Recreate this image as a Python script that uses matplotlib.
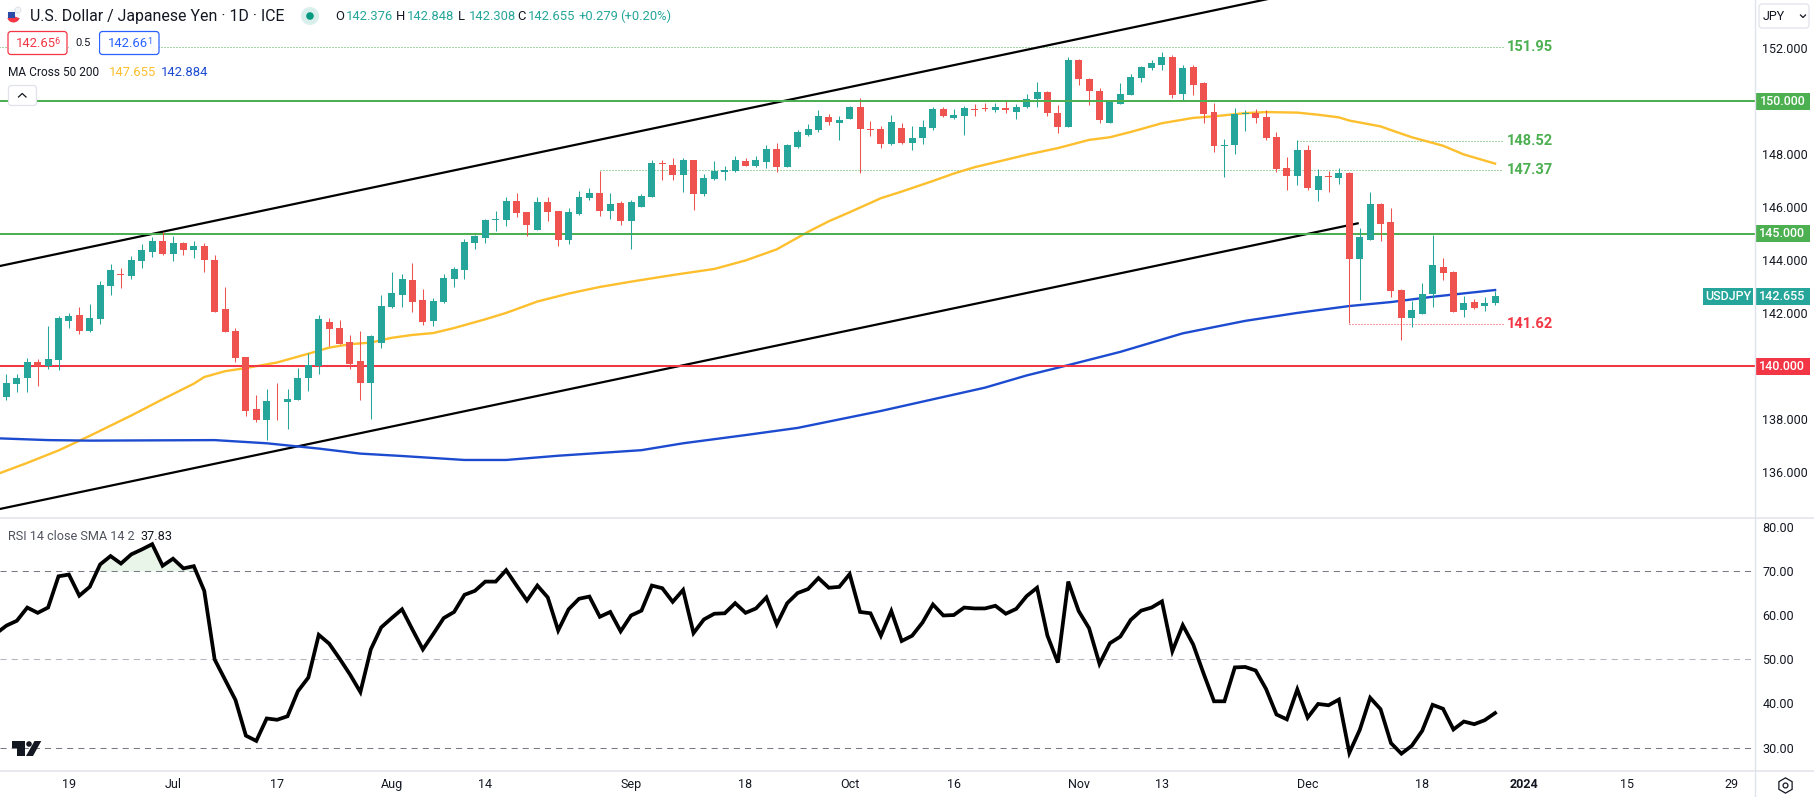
import matplotlib
matplotlib.use("Agg")
import matplotlib.pyplot as plt
from matplotlib.patches import Circle, FancyBboxPatch, Polygon, Rectangle, Wedge

W, H = 1814, 797
plt.rcParams['font.family'] = ['Roboto', 'DejaVu Sans']
plt.rcParams['lines.scale_dashes'] = False

GREEN = '#26a69a'
RED = '#ef5350'
LEVEL_GREEN = '#4caf50'
LEVEL_RED = '#f23645'
YELLOW = '#fdbf2d'
BLUE = '#1c4bd0'
TEXT = '#131722'
BORDER = '#e0e3eb'

# bar 0 is 19 Jun 2023, first visible bar is -6, last is 137 (27 Dec)
first_bar = -6
opens = [138.83, 139.32, 139.55, 140.15, 140.00, 140.23, 141.70, 141.93, 141.33, 141.78,
         143.03, 143.48, 143.41, 143.98, 144.32, 144.73, 144.24, 144.66, 144.39, 144.55,
         144.02, 142.16, 141.33, 140.34, 138.41, 137.99, 138.67, 138.64, 138.75, 139.55,
         140.00, 141.67, 141.44, 140.91, 140.19, 139.36, 140.87, 142.23, 142.69, 143.26,
         142.50, 141.70, 142.42, 143.30, 143.64, 144.66, 144.85, 145.53, 145.53,
         146.24, 145.83, 145.15, 146.20, 145.86, 144.78, 145.75, 146.35, 146.54, 145.86,
         146.16, 145.49, 146.01, 146.39, 147.66, 147.59, 147.21, 147.81, 146.50, 147.06,
         147.33, 147.36, 147.74, 147.55, 147.70, 148.19, 147.51, 148.30, 148.75, 148.94,
         149.43, 149.20, 149.35, 149.80, 148.98, 148.98, 148.41, 149.01, 148.45, 148.64,
         149.01, 149.73, 149.39, 149.46, 149.73, 149.76, 149.69, 149.74, 149.62, 149.81,
         150.08, 150.34, 149.55, 149.02, 151.58, 150.86, 150.41, 149.17, 149.89, 150.26,
         150.90, 151.28, 151.39, 151.69, 150.30, 151.32, 150.71, 149.62, 148.31, 148.35,
         149.51, 149.55, 149.40, 148.65, 147.48, 147.18, 148.16, 146.65, 147.18, 147.11,
         147.29, 144.06, 144.77, 146.13, 145.45, 142.89, 141.84, 141.99, 142.74, 143.76,
         143.57, 142.14, 142.44, 142.29, 142.376]
closes = [139.36, 139.55, 140.15, 140.00, 140.27, 141.82, 141.89, 141.33, 141.82, 143.07,
          143.64, 143.45, 144.02, 144.39, 144.73, 144.24, 144.65, 144.39, 144.55, 144.02,
          142.05, 141.29, 140.30, 138.33, 137.99, 138.71, 138.64, 138.79, 139.58, 140.04,
          141.78, 141.40, 140.86, 140.11, 139.36, 141.14, 142.27, 142.77, 143.30, 142.42,
          141.67, 142.46, 143.33, 143.67, 144.70, 144.92, 145.53, 145.57, 146.25,
          145.79, 145.34, 146.20, 145.83, 144.78, 145.83, 146.39, 146.54, 145.86, 146.13,
          145.49, 146.20, 146.43, 147.66, 147.63, 147.21, 147.81, 146.50, 147.10, 147.36,
          147.40, 147.81, 147.55, 147.78, 148.19, 147.51, 148.34, 148.83, 148.98, 149.46,
          149.24, 149.31, 149.80, 148.98, 148.94, 148.41, 149.24, 148.45, 148.64, 149.05,
          149.73, 149.46, 149.50, 149.76, 149.69, 149.73, 149.80, 149.66, 149.81, 150.11,
          150.34, 149.55, 149.02, 151.58, 150.83, 150.38, 149.29, 150.04, 150.30, 150.94,
          151.32, 151.47, 151.69, 150.26, 151.28, 150.64, 149.51, 148.31, 148.35, 149.51,
          149.55, 149.36, 148.61, 147.44, 147.18, 148.16, 146.73, 147.18, 147.14, 147.29,
          144.06, 144.89, 146.13, 145.38, 142.86, 141.84, 142.14, 142.74, 143.83, 143.53,
          142.07, 142.41, 142.22, 142.41, 142.655]
highs = [139.70, 139.73, 140.30, 140.27, 141.52, 141.89, 142.01, 142.23, 142.35, 143.22,
         143.86, 143.71, 144.17, 144.62, 144.89, 145.08, 144.92, 144.70, 144.73, 144.66,
         144.20, 142.99, 141.44, 140.34, 138.94, 139.13, 139.39, 139.13, 139.96, 140.49,
         141.93, 141.82, 141.74, 141.17, 141.33, 141.17, 142.69, 143.56, 143.48, 143.90,
         142.92, 142.58, 143.48, 143.75, 144.81, 144.96, 145.57, 145.87, 146.40,
         146.54, 145.83, 146.39, 146.39, 145.86, 145.98, 146.61, 146.73, 147.36, 146.54,
         146.24, 146.28, 146.50, 147.78, 147.81, 147.85, 147.85, 147.81, 147.25, 147.74,
         147.55, 147.93, 147.85, 147.93, 148.34, 148.45, 148.41, 148.94, 149.16, 149.69,
         149.54, 149.46, 149.84, 150.14, 149.28, 149.09, 149.50, 149.20, 149.09, 149.31,
         149.80, 149.80, 149.73, 149.84, 149.91, 149.95, 149.95, 150.04, 149.92, 150.30,
         150.75, 150.38, 149.85, 151.69, 151.62, 150.90, 150.49, 150.04, 150.68, 151.05,
         151.35, 151.58, 151.88, 151.77, 151.39, 151.39, 150.75, 149.96, 148.57, 149.74,
         149.66, 149.70, 149.66, 148.83, 147.89, 148.53, 148.35, 147.44, 147.37, 147.48,
         147.33, 145.23, 146.58, 146.17, 145.98, 142.93, 142.48, 143.16, 144.96, 144.10,
         143.61, 142.67, 142.56, 142.63, 142.848]
lows = [138.75, 139.05, 139.02, 139.28, 139.92, 139.85, 141.44, 141.21, 141.29, 141.59,
        142.69, 142.95, 143.30, 143.71, 144.13, 144.20, 143.98, 144.20, 144.09, 143.56,
        142.05, 141.29, 140.15, 138.14, 137.92, 137.23, 137.99, 137.65, 138.75, 139.09,
        139.73, 140.76, 140.83, 139.92, 138.75, 138.03, 140.68, 142.20, 142.23, 142.05,
        141.55, 141.52, 142.39, 142.99, 143.30, 144.43, 144.66, 145.11, 145.30,
        145.64, 144.93, 145.15, 145.49, 144.55, 144.63, 145.71, 146.28, 145.68, 145.56,
        145.34, 144.44, 146.01, 146.39, 147.03, 147.03, 146.58, 145.90, 146.43, 147.03,
        147.03, 147.33, 147.55, 147.51, 147.48, 147.33, 147.51, 148.23, 148.68, 148.83,
        149.13, 148.53, 149.35, 147.29, 148.71, 148.26, 148.34, 148.41, 148.15, 148.41,
        148.94, 149.43, 149.35, 148.75, 149.46, 149.65, 149.61, 149.55, 149.32, 149.77,
        149.81, 149.44, 148.80, 149.02, 150.64, 149.85, 149.17, 149.17, 149.89, 150.26,
        150.75, 151.20, 151.20, 150.15, 150.04, 150.26, 149.17, 148.08, 147.14, 148.01,
        148.87, 149.17, 148.53, 147.33, 146.65, 146.84, 146.65, 146.24, 146.58, 146.88,
        141.63, 142.52, 144.77, 144.74, 142.63, 140.98, 141.47, 141.99, 142.26, 143.27,
        142.07, 141.88, 142.18, 142.11, 142.308]

# RSI starts one bar earlier because the line runs off the left edge
rsi_first_bar = -7
rsi = [55.9, 57.7, 58.8, 61.8, 60.6, 61.8, 68.9, 69.3, 64.5, 66.5, 71.6, 73.5, 71.8, 73.9, 75.0,
       76.2, 71.3, 72.9, 70.7, 71.2, 65.6, 50.0, 45.4, 40.8, 32.7, 31.5, 36.6, 36.3, 37.1, 42.8,
       45.9, 55.6, 53.6, 50.2, 46.6, 42.6, 52.3, 57.3, 59.4, 61.4, 56.8, 52.3, 55.8, 59.4, 60.8,
       64.7, 65.6, 67.7, 67.7, 70.3, 66.8, 63.4, 66.8, 64.1, 56.6, 61.4, 63.8, 64.3, 59.7, 60.8,
       56.4, 60.0, 61.1, 66.8, 66.2, 63.1, 65.8, 56.0, 59.1, 60.4, 60.5, 62.8, 60.6, 61.6, 64.1,
       58.0, 62.8, 65.1, 66.0, 68.5, 66.3, 66.5, 69.4, 60.8, 60.5, 55.4, 61.0, 54.2, 55.4, 58.4,
       62.5, 60.0, 60.1, 61.8, 61.6, 61.6, 62.2, 60.4, 61.5, 64.4, 66.3, 55.4, 49.3, 67.7, 61.0,
       57.1, 49.0, 53.7, 55.2, 59.0, 61.1, 61.8, 63.2, 51.9, 57.8, 53.4, 46.8, 40.5, 40.5, 48.2,
       48.3, 47.5, 43.3, 37.5, 36.4, 43.2, 36.8, 39.9, 39.6, 40.9, 28.8, 34.0, 41.3, 38.7, 31.0,
       28.6, 30.4, 33.8, 39.7, 38.8, 34.1, 35.9, 35.3, 36.2, 37.83]

ma50_bars = [-7, -4, -1, 2, 6, 9, 12, 13, 15, 17, 20, 23, 25, 27, 29, 31, 33, 35, 37, 40, 42, 45,
             48, 51, 54, 58, 62, 65, 68, 71, 73, 75, 78, 80, 83, 85, 87, 90, 92, 95, 98, 100, 102,
             105, 108, 110, 113, 115, 118, 120, 122, 123, 126, 127, 129, 132, 134, 137]
ma50 = [135.92, 136.36, 136.83, 137.38, 138.15, 138.76, 139.35, 139.60, 139.82, 139.94, 140.15,
        140.48, 140.71, 140.84, 140.90, 141.08, 141.19, 141.26, 141.45, 141.78, 142.02, 142.45,
        142.75, 143.00, 143.20, 143.45, 143.68, 144.00, 144.42, 145.08, 145.48, 145.82, 146.35,
        146.60, 147.00, 147.28, 147.52, 147.80, 147.99, 148.24, 148.55, 148.65, 148.85, 149.18,
        149.38, 149.44, 149.56, 149.60, 149.58, 149.50, 149.40, 149.28, 149.06, 148.92, 148.65,
        148.33, 148.00, 147.655]
ma200_bars = [-7, -2, 2, 14, 19, 24, 28, 32, 38, 42, 47, 55, 59, 65, 70, 78, 83, 88, 92, 96, 101,
              107, 113, 118, 123, 127, 131, 137]
ma200 = [137.29, 137.22, 137.20, 137.22, 137.10, 136.90, 136.71, 136.62, 136.47, 136.47, 136.63,
         136.84, 137.10, 137.41, 137.68, 138.32, 138.76, 139.20, 139.66, 140.05, 140.55, 141.25,
         141.72, 142.02, 142.28, 142.43, 142.63, 142.884]

channel_upper_bars = [-7, 125]
channel_upper = [143.76, 154.68]
channel_lower_bars = [-7, 123.8]
channel_lower = [134.59, 145.40]

h_levels = [150, 145, 140]
h_colors = [LEVEL_GREEN, LEVEL_GREEN, LEVEL_RED]
h_labels = ['150.000', '145.000', '140.000']
h_zorders = [5, 2, 2]  # the 150 line sits over the candles, the others under

dot_starts = [-7, 118, 51, 123]
dot_prices = [152.05, 148.52, 147.42, 141.62]
dot_labels = ['151.95', '148.52', '147.37', '141.62']
dot_colors = [LEVEL_GREEN, LEVEL_GREEN, LEVEL_GREEN, LEVEL_RED]

price_ticks = [136, 138, 142, 144, 146, 148, 152]
rsi_ticks = [30, 40, 50, 60, 70, 80]
rsi_bands = [70, 50, 30]
rsi_band_colors = ['#787b86', '#b2b5be', '#787b86']
date_ticks = [0, 10, 20, 31, 40, 54, 65, 75, 85, 97, 105, 119, 130, 139.8, 149.7, 159.7]
date_labels = ['19', 'Jul', '17', 'Aug', '14', 'Sep', '18', 'Oct', '16', 'Nov', '13', 'Dec', '18',
               '2024', '15', '29']

fig = plt.figure(figsize=(W / 100, H / 100), dpi=100, facecolor='white')
SPLIT_X, SPLIT_Y, RSI_BOTTOM = 1754.6, 518, 770.7
ax = fig.add_axes([0, 1 - SPLIT_Y / H, SPLIT_X / W, SPLIT_Y / H])
ax_rsi = fig.add_axes([0, 1 - RSI_BOTTOM / H, SPLIT_X / W, (RSI_BOTTOM - SPLIT_Y) / H])

for a in (ax, ax_rsi):
    a.set_xlim(-6.62, 161.93)
    for s in a.spines.values():
        s.set_visible(False)
    a.yaxis.tick_right()
    a.tick_params(axis='both', length=0, colors=TEXT, labelsize=9)
    a.tick_params(axis='y', pad=5.5)
ax.set_ylim(134.28, 153.83)
ax_rsi.set_ylim(24.73, 82.15)

# Lines under the candles
ax.plot(channel_upper_bars, channel_upper, color='black', lw=1.6, zorder=2)
ax.plot(channel_lower_bars, channel_lower, color='black', lw=1.6, zorder=2)
ax.plot(ma50_bars, ma50, color=YELLOW, lw=1.7, zorder=2)
ax.plot(ma200_bars, ma200, color=BLUE, lw=1.7, zorder=2)
for level, col, z in zip(h_levels, h_colors, h_zorders):
    ax.axhline(level, color=col, lw=1.45, zorder=z)
for start, price, label, col in zip(dot_starts, dot_prices, dot_labels, dot_colors):
    ax.plot([start, 137.8], [price, price], color=col, lw=0.72, ls=(0, (0.72, 1.44)), zorder=1)
    ax.text(138.1, price, label, color=col, fontsize=10.5, fontweight='bold', va='center', ha='left')

# Candles
bars = list(range(first_bar, first_bar + len(opens)))
colors = [GREEN if c >= o else RED for o, c in zip(opens, closes)]
ax.vlines(bars, lows, highs, colors=colors, lw=0.75, zorder=3)
ax.bar(bars, [c - o for o, c in zip(opens, closes)], bottom=opens, width=0.67, color=colors,
       linewidth=0, zorder=4)

ax.set_xticks([])
ax.set_yticks(price_ticks)
ax.set_yticklabels([f'{t:.3f}' for t in price_ticks])


def price_tag(axis, price, text, color, x0=1.0, x1=1.0316):
    trans = axis.get_yaxis_transform()
    axis.add_patch(Rectangle((x0, price - 0.32), x1 - x0, 0.64, transform=trans, color=color,
                             clip_on=False, zorder=6, linewidth=0))
    axis.text((x0 + x1) / 2, price, text, transform=trans, color='white', fontsize=9,
              fontweight='medium', ha='center', va='center', zorder=7, clip_on=False)


for level, col, label in zip(h_levels, h_colors, h_labels):
    price_tag(ax, level, label, col)
price_tag(ax, closes[-1], f'{closes[-1]:.3f}', GREEN)
price_tag(ax, closes[-1], 'USDJPY', GREEN, x0=0.9706, x1=0.999)

# RSI pane
rsi_bars = list(range(rsi_first_bar, rsi_first_bar + len(rsi)))
for band, col in zip(rsi_bands, rsi_band_colors):
    ax_rsi.axhline(band, color=col, lw=0.75, ls=(0, (4.4, 3.6)), zorder=1)
ax_rsi.fill_between(rsi_bars, 70, rsi, where=[r >= 70 for r in rsi], interpolate=True,
                    color='#4caf50', alpha=0.12, linewidth=0, zorder=1)
ax_rsi.plot(rsi_bars, rsi, color='black', lw=2.7, solid_joinstyle='miter', zorder=3)
ax_rsi.set_yticks(rsi_ticks)
ax_rsi.set_yticklabels([f'{t:.2f}' for t in rsi_ticks])
ax_rsi.set_xticks(date_ticks)
ax_rsi.set_xticklabels(date_labels)
ax_rsi.tick_params(axis='x', pad=5.5)
ax_rsi.get_xticklabels()[13].set_fontweight('bold')

# Chart furniture drawn in pixel coordinates
ov = fig.add_axes([0, 0, 1, 1], zorder=10)
ov.set_xlim(0, W)
ov.set_ylim(H, 0)
ov.axis('off')
ov.patch.set_alpha(0)

ov.plot([SPLIT_X, SPLIT_X], [0, H], color=BORDER, lw=1)
ov.plot([0, W], [SPLIT_Y, SPLIT_Y], color=BORDER, lw=1.1)
ov.plot([0, W], [RSI_BOTTOM, RSI_BOTTOM], color=BORDER, lw=1.1)

# flag
ov.add_patch(Circle((13.5, 16), 6.5, fc='#f4f5f8', ec='none'))
ov.add_patch(Wedge((13.5, 16), 6.5, 20, 160, fc=LEVEL_RED, ec='none'))
ov.add_patch(Rectangle((8, 12), 7, 6, fc='#2c4aa8', ec='none'))
ov.add_patch(Circle((18, 10), 3, fc='#f4f5f8', ec='#d8dbe5', lw=0.5))

ov.text(30, 16, 'U.S. Dollar / Japanese Yen · 1D · ICE', color=TEXT, fontsize=11.4, va='center')
ov.add_patch(Circle((310, 16), 9, fc='#d9efeb', ec='none'))
ov.add_patch(Circle((310, 16), 3.8, fc='#089981', ec='none'))

ohlc_letters = ['O', 'H', 'L', 'C']
ohlc_letter_x = [335, 396, 458, 517]
ohlc_values = ['142.376', '142.848', '142.308', '142.655']
for letter, lx, val in zip(ohlc_letters, ohlc_letter_x, ohlc_values):
    ov.text(lx, 16, letter, color=TEXT, fontsize=9.4, va='center')
    ov.text(lx + 10.5, 16, val, color=GREEN, fontsize=9.4, va='center')
ov.text(578, 16, '+0.279', color=GREEN, fontsize=9.4, va='center')
ov.text(620.5, 16, '(+0.20%)', color=GREEN, fontsize=9.4, va='center')

# sell and buy boxes
ov.add_patch(FancyBboxPatch((9.5, 33), 56, 20, boxstyle='round,pad=1.5,rounding_size=3', fc='white',
                            ec=LEVEL_RED, lw=0.9))
ov.add_patch(FancyBboxPatch((101, 33), 56.5, 20, boxstyle='round,pad=1.5,rounding_size=3', fc='white',
                            ec='#2962ff', lw=0.9))
ov.add_patch(Rectangle((68.5, 36), 30, 14, fc='white', ec='none'))
ov.text(15.5, 43.5, '142.65', color=LEVEL_RED, fontsize=9.4, va='center')
ov.text(54.5, 41, '6', color=LEVEL_RED, fontsize=6.5, va='center')
ov.text(83.5, 43, '0.5', color=TEXT, fontsize=8, va='center', ha='center')
ov.text(108, 43.5, '142.66', color='#2962ff', fontsize=9.4, va='center')
ov.text(147, 41, '1', color='#2962ff', fontsize=6.5, va='center')

ov.text(8, 72, 'MA Cross 50 200', color=TEXT, fontsize=8.6, va='center')
ov.text(108.5, 72, '147.655', color=YELLOW, fontsize=9.4, va='center')
ov.text(160.7, 72, '142.884', color=BLUE, fontsize=9.4, va='center')

# collapse button
ov.add_patch(FancyBboxPatch((10, 87), 25, 17, boxstyle='round,pad=1.5,rounding_size=3', fc='white',
                            ec=BORDER, lw=0.9))
ov.plot([18.5, 22.2, 26], [97, 93.5, 97], color=TEXT, lw=0.9)

ov.text(8, 536, 'RSI 14 close SMA 14 2', color='#50535e', fontsize=9.1, va='center')
ov.text(140, 536, '37.83', color=TEXT, fontsize=9.1, va='center')

# JPY selector
ov.add_patch(FancyBboxPatch((1760.5, 5.5), 47, 21, boxstyle='round,pad=1.5,rounding_size=3', fc='white',
                            ec=BORDER, lw=0.9))
ov.text(1762.5, 16, 'JPY', color=TEXT, fontsize=9, va='center')
ov.plot([1800.5, 1803, 1805.5], [15, 17.5, 15], color=TEXT, lw=0.9)

# TradingView mark
ov.add_patch(Polygon([(11.5, 741), (25, 741), (25, 756), (16.5, 756), (16.5, 748), (11.5, 748)], fc=TEXT, ec='none'))
ov.add_patch(Circle((29, 744), 2.8, fc=TEXT, ec='none'))
ov.add_patch(Polygon([(34.5, 741), (41.3, 741), (33, 756), (26, 756)], fc=TEXT, ec='none'))

# settings icon
ov.plot([1785], [784.5], marker='h', ms=11, mfc='white', mec=TEXT, mew=0.9)
ov.plot([1785], [784.5], marker='o', ms=3.5, mfc='white', mec=TEXT, mew=0.9)

fig.savefig('out.png', dpi=100, facecolor='white')
